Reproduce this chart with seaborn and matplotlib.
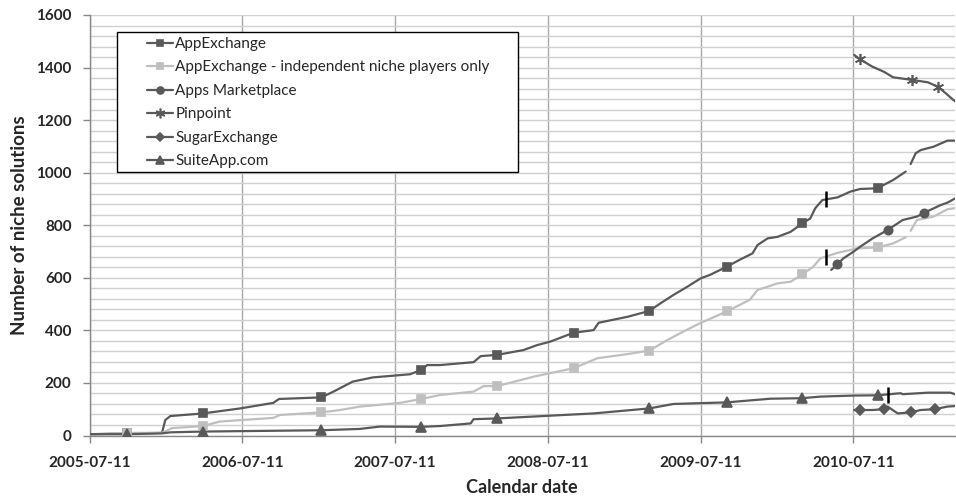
import matplotlib
matplotlib.use('Agg')
import matplotlib.pyplot as plt
import matplotlib.dates as mdates
from matplotlib.lines import Line2D
from matplotlib.patches import Rectangle
from matplotlib.ticker import MultipleLocator, FixedLocator
import numpy as np
import pandas as pd
import seaborn as sns

# (date, number of niche solutions); None marks a gap in the series
appexchange = [
    ('2005-07-11', 5), ('2005-10-08', 8), ('2005-12-31', 10), ('2006-01-08', 59), ('2006-01-20', 74),
    ('2006-04-08', 84), ('2006-07-06', 103), ('2006-09-23', 124), ('2006-10-07', 139), ('2007-01-16', 145),
    ('2007-02-14', 167), ('2007-04-01', 205), ('2007-05-19', 221), ('2007-08-16', 233), ('2007-09-12', 249),
    ('2007-09-26', 268), ('2007-10-27', 268), ('2008-01-15', 279), ('2008-02-01', 302), ('2008-03-12', 307),
    ('2008-05-13', 325), ('2008-06-15', 344), ('2008-07-16', 357), ('2008-09-10', 391), ('2008-10-28', 401),
    ('2008-11-09', 429), ('2009-01-18', 452), ('2009-03-10', 474), ('2009-04-06', 503), ('2009-05-07', 535),
    ('2009-06-09', 566), ('2009-07-11', 598), ('2009-08-02', 611), ('2009-09-11', 642), ('2009-10-14', 670),
    ('2009-11-12', 693), ('2009-11-24', 725), ('2009-12-18', 750), ('2010-01-11', 756), ('2010-02-11', 775),
    ('2010-03-11', 807), ('2010-03-30', 826), ('2010-04-11', 865), ('2010-04-28', 896), ('2010-06-03', 906),
    ('2010-07-04', 928), ('2010-07-27', 938), ('2010-08-28', 940), ('2010-09-09', 943), ('2010-10-14', 972),
    ('2010-11-13', 1004), ('2010-11-19', None), ('2010-11-25', 1033), ('2010-12-07', 1074), ('2010-12-19', 1086),
    ('2011-01-19', 1099), ('2011-02-21', 1122), ('2011-03-11', 1122),
]
appexchange_indep = [
    ('2005-07-11', 3), ('2005-10-08', 10), ('2005-12-31', 10), ('2006-01-24', 28), ('2006-04-08', 36),
    ('2006-05-18', 53), ('2006-09-23', 67), ('2006-10-09', 78), ('2007-01-16', 88), ('2007-03-02', 97),
    ('2007-04-18', 110), ('2007-07-23', 124), ('2007-09-12', 139), ('2007-10-27', 154), ('2008-01-15', 167),
    ('2008-02-08', 188), ('2008-03-12', 188), ('2008-06-07', 224), ('2008-09-10', 256), ('2008-11-06', 294),
    ('2009-01-18', 310), ('2009-03-10', 323), ('2009-04-22', 363), ('2009-05-30', 395), ('2009-07-09', 427),
    ('2009-09-11', 472), ('2009-11-05', 516), ('2009-11-24', 554), ('2009-12-18', 566), ('2010-01-11', 579),
    ('2010-02-11', 585), ('2010-03-11', 613), ('2010-04-06', 642), ('2010-04-23', 674), ('2010-06-03', 695),
    ('2010-07-04', 706), ('2010-07-20', 712), ('2010-09-09', 716), ('2010-10-14', 731), ('2010-11-13', 754),
    ('2010-11-19', None), ('2010-11-25', 779), ('2010-12-10', 820), ('2011-01-19', 833), ('2011-02-21', 861),
    ('2011-03-11', 865),
]
apps_marketplace = [
    ('2010-05-19', 630), ('2010-06-03', 651), ('2010-06-17', 674), ('2010-07-11', 699), ('2010-07-27', 718),
    ('2010-08-26', 750), ('2010-10-01', 782), ('2010-11-06', 820), ('2010-12-10', 833), ('2010-12-28', 848),
    ('2011-02-05', 877), ('2011-02-21', 886), ('2011-03-11', 902),
]
pinpoint = [
    ('2010-07-13', 1448), ('2010-07-27', 1431), ('2010-08-26', 1403), ('2010-09-22', 1384), ('2010-10-14', 1363),
    ('2010-11-01', 1359), ('2010-11-28', 1353), ('2011-01-05', 1344), ('2011-01-29', 1327), ('2011-02-17', 1302),
    ('2011-03-07', 1277), ('2011-03-11', 1272),
]
sugarexchange = [
    ('2010-07-13', 97), ('2010-07-27', 97), ('2010-08-26', 97), ('2010-09-22', 100), ('2010-10-01', 110),
    ('2010-10-25', 84), ('2010-11-25', 88), ('2010-12-19', 97), ('2011-01-21', 100), ('2011-02-21', 110),
    ('2011-03-11', 112),
]
suiteapp = [
    ('2005-07-11', 5), ('2005-10-08', 5), ('2005-12-31', 8), ('2006-01-20', 12), ('2006-04-08', 15),
    ('2007-01-16', 20), ('2007-04-18', 25), ('2007-06-05', 34), ('2007-09-12', 33), ('2007-10-27', 36),
    ('2008-01-08', 46), ('2008-01-15', 62), ('2008-03-12', 65), ('2008-10-28', 84), ('2009-03-10', 103),
    ('2009-05-07', 120), ('2009-09-11', 126), ('2009-12-25', 140), ('2010-03-11', 142), ('2010-04-23', 148),
    ('2010-07-13', 152), ('2010-09-09', 153), ('2010-11-01', 161), ('2010-11-06', 157), ('2011-01-05', 163),
    ('2011-02-28', 163), ('2011-03-11', 157),
]

# dates on which each series shows a marker
marker_dates_long = ['2005-10-08', '2006-04-08', '2007-01-16', '2007-09-12', '2008-03-12',
                     '2008-09-10', '2009-03-10', '2009-09-11', '2010-03-11', '2010-09-09']
marker_dates_apps = ['2010-06-03', '2010-10-01', '2010-12-28']
marker_dates_pinpoint = ['2010-07-27', '2010-11-28', '2011-01-29']
marker_dates_sugar = ['2010-07-27', '2010-09-22', '2010-11-25', '2011-01-21']

# short black vertical bars marking events
event_marks = [('2010-05-06', 900), ('2010-05-06', 680), ('2010-10-03', 155)]

series_labels = ['AppExchange', 'AppExchange - independent niche players only', 'Apps Marketplace',
                 'Pinpoint', 'SugarExchange', 'SuiteApp.com']
xtick_dates = ['2005-07-11', '2006-07-11', '2007-07-11', '2008-07-11', '2009-07-11', '2010-07-11']
x_range = ('2005-07-11', '2011-03-11')

DARK = '#595959'
LIGHT = '#bfbfbf'


def to_frame(points):
    df = pd.DataFrame(points, columns=['date', 'value'])
    df['date'] = pd.to_datetime(df['date'])
    df['value'] = pd.to_numeric(df['value'])
    df['seg'] = df['value'].isna().cumsum()
    return df.dropna()


sns.set_theme(style='white')
plt.rcParams['font.family'] = ['Lato', 'DejaVu Sans']

fig = plt.figure(figsize=(9.56, 5.0), dpi=100)
ax = fig.add_axes([89.6 / 956, 1 - 435.5 / 500, (955 - 89.6) / 956, (435.5 - 15) / 500])

styles = [
    (appexchange, marker_dates_long, DARK, 's', 6),
    (appexchange_indep, marker_dates_long, LIGHT, 's', 6),
    (apps_marketplace, marker_dates_apps, DARK, 'o', 6),
    (pinpoint, marker_dates_pinpoint, DARK, (6, 2, 0), 8),
    (sugarexchange, marker_dates_sugar, DARK, 'D', 5),
    (suiteapp, marker_dates_long, DARK, '^', 7),
]

handles = []
for (points, mdates_list, color, marker, msize), label in zip(styles, series_labels):
    df = to_frame(points)
    sns.lineplot(data=df, x='date', y='value', units='seg', estimator=None, sort=False,
                 color=color, linewidth=1.6, ax=ax, zorder=3)
    marks = df[df['date'].isin(pd.to_datetime(mdates_list))]
    ax.plot(marks['date'], marks['value'], linestyle='none', marker=marker, markersize=msize,
            color=color, markeredgecolor=color, markeredgewidth=1.2, zorder=4)
    handles.append(Line2D([], [], color=color, linewidth=1.6, marker=marker, markersize=msize - 1,
                          markeredgecolor=color, markeredgewidth=1.2, label=label))

ev = pd.DataFrame(event_marks, columns=['date', 'value'])
ev['date'] = pd.to_datetime(ev['date'])
ax.plot(ev['date'], ev['value'], linestyle='none', marker='|', markersize=11,
        markeredgewidth=1.8, color='black', zorder=5)

# axes
ax.set_xlim(pd.to_datetime(x_range[0]), pd.to_datetime(x_range[1]))
ax.set_ylim(0, 1600)
ax.yaxis.set_major_locator(MultipleLocator(200))
ax.yaxis.set_minor_locator(MultipleLocator(40))
ax.xaxis.set_major_locator(FixedLocator(mdates.date2num(pd.to_datetime(xtick_dates))))
ax.xaxis.set_major_formatter(mdates.DateFormatter('%Y-%m-%d'))

ax.grid(which='both', axis='y', color='#d0d0d0', linewidth=1.0, zorder=0)
ax.grid(which='major', axis='x', color='#a8a8a8', linewidth=1.0, zorder=0)
ax.set_axisbelow(True)

for side in ['top', 'right']:
    ax.spines[side].set_visible(False)
for side in ['left', 'bottom']:
    ax.spines[side].set_color('#888888')
    ax.spines[side].set_linewidth(1.0)

ax.tick_params(axis='both', which='major', direction='out', length=5, width=1, color='#888888',
               labelsize=11, bottom=True, left=True)
ax.tick_params(axis='x', pad=10)
ax.tick_params(axis='y', pad=8)
ax.tick_params(which='minor', length=0)
for lbl in ax.get_xticklabels() + ax.get_yticklabels():
    lbl.set_fontweight('bold')

ax.set_xlabel('Calendar date', fontsize=13, fontweight='bold', labelpad=6)
ax.set_ylabel('Number of niche solutions', fontsize=13.5, fontweight='bold', labelpad=6)

# legend with a boxed white frame
ax.add_patch(Rectangle((117 / 956, 1 - 171.7 / 500), 401 / 956, 140 / 500, transform=fig.transFigure,
                       facecolor='white', edgecolor='black', linewidth=1.0, zorder=6, clip_on=False))
leg = ax.legend(handles=handles, loc='upper left', bbox_to_anchor=(147 / 956, 1 - 37 / 500),
                bbox_transform=fig.transFigure, frameon=False, borderpad=0, borderaxespad=0,
                fontsize=11, handlelength=1.7, handletextpad=0.15, labelspacing=0.62)
leg.set_zorder(7)

fig.savefig('out.png', dpi=100)
